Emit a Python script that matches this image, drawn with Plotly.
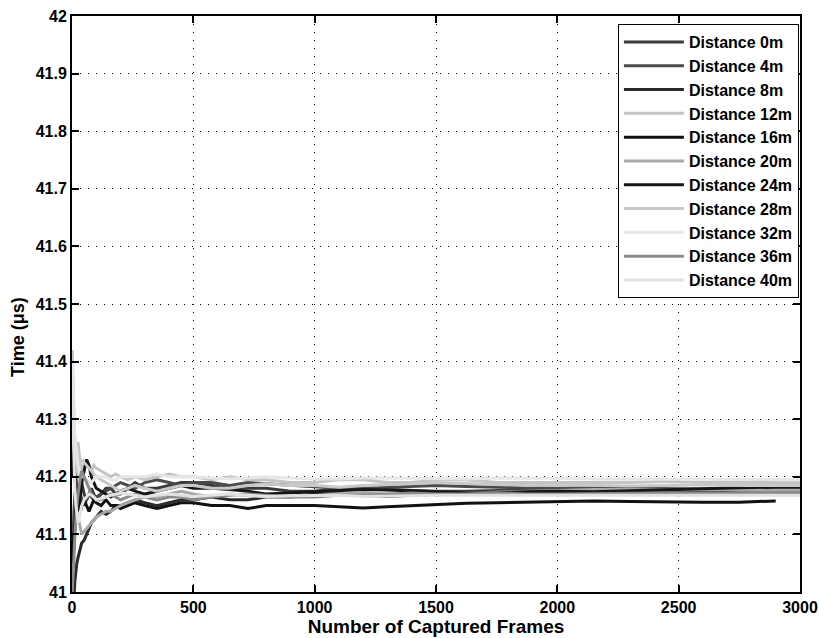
import plotly.graph_objects as go

# Frame counts at which the running mean time was sampled
frames = [1, 4, 8, 12, 16, 20, 25, 30, 35, 40,
          50, 60, 70, 80, 90, 100, 120, 140, 160, 180,
          200, 230, 260, 300, 350, 400, 450, 500, 575, 650,
          725, 800, 900, 1000, 1100, 1200, 1300, 1400, 1500, 1625,
          1750, 1875, 2000, 2150, 2300, 2450, 2600, 2750, 2900, 3000]

labels = ["Distance 0m", "Distance 4m", "Distance 8m", "Distance 12m",
          "Distance 16m", "Distance 20m", "Distance 24m", "Distance 28m",
          "Distance 32m", "Distance 36m", "Distance 40m"]

d0 = [41.30, 41.26, 41.22, 41.19, 41.21, 41.23, 41.24, 41.22, 41.20, 41.19,
      41.17, 41.16, 41.17, 41.18, 41.17, 41.16, 41.17, 41.18, 41.18, 41.17,
      41.17, 41.18, 41.19, 41.18, 41.18, 41.185, 41.19, 41.19, 41.185, 41.18,
      41.18, 41.18, 41.175, 41.175, 41.18, 41.18, 41.178, 41.176, 41.175, 41.175,
      41.176, 41.178, 41.178, 41.177, 41.176, 41.176, 41.177, 41.178, 41.178, 41.178]
d4 = [41.05, 41.10, 41.14, 41.17, 41.18, 41.16, 41.15, 41.16, 41.17, 41.16,
      41.15, 41.16, 41.17, 41.165, 41.16, 41.165, 41.17, 41.175, 41.18, 41.185,
      41.19, 41.185, 41.18, 41.19, 41.195, 41.19, 41.185, 41.19, 41.19, 41.185,
      41.19, 41.188, 41.185, 41.182, 41.18, 41.18, 41.182, 41.184, 41.185, 41.183,
      41.182, 41.18, 41.18, 41.181, 41.18, 41.18, 41.179, 41.18, 41.18, 41.18]
d8 = [40.90, 40.95, 40.99, 41.02, 41.04, 41.05, 41.06, 41.07, 41.08, 41.085,
      41.09, 41.10, 41.11, 41.12, 41.125, 41.13, 41.14, 41.135, 41.14, 41.15,
      41.15, 41.155, 41.16, 41.155, 41.15, 41.155, 41.16, 41.16, 41.165, 41.16,
      41.16, 41.165, 41.165, 41.17, 41.17, 41.168, 41.166, 41.168, 41.17, 41.172,
      41.17, 41.17, 41.172, 41.172, 41.17, 41.172, 41.174, 41.172, 41.172, 41.172]
d12 = [41.42, 41.36, 41.30, 41.25, 41.22, 41.24, 41.26, 41.24, 41.22, 41.21,
       41.22, 41.23, 41.22, 41.21, 41.22, 41.215, 41.21, 41.205, 41.20, 41.205,
       41.20, 41.195, 41.20, 41.195, 41.20, 41.205, 41.20, 41.20, 41.195, 41.20,
       41.195, 41.195, 41.19, 41.19, 41.195, 41.195, 41.19, 41.19, 41.195, 41.195,
       41.19, 41.19, 41.19, 41.19, 41.19, 41.192, 41.19, 41.19, 41.19, 41.19]
d16 = [41.10, 41.05, 41.08, 41.12, 41.15, 41.17, 41.18, 41.16, 41.14, 41.15,
       41.16, 41.15, 41.14, 41.15, 41.16, 41.155, 41.15, 41.16, 41.15, 41.15,
       41.145, 41.15, 41.155, 41.15, 41.145, 41.15, 41.155, 41.155, 41.15, 41.15,
       41.145, 41.15, 41.15, 41.15, 41.148, 41.146, 41.148, 41.15, 41.152, 41.154,
       41.155, 41.156, 41.158, 41.158, 41.157, 41.156, 41.156, 41.156, 41.158, None]
d20 = [41.35, 41.30, 41.26, 41.22, 41.18, 41.15, 41.13, 41.12, 41.11, 41.10,
       41.105, 41.11, 41.115, 41.12, 41.125, 41.13, 41.135, 41.14, 41.14, 41.145,
       41.15, 41.155, 41.16, 41.165, 41.165, 41.17, 41.175, 41.17, 41.165, 41.17,
       41.168, 41.165, 41.165, 41.168, 41.17, 41.172, 41.17, 41.168, 41.17, 41.172,
       41.174, 41.175, 41.176, 41.178, 41.178, 41.177, 41.178, 41.178, 41.178, 41.178]
d24 = [41.20, 41.24, 41.25, 41.22, 41.19, 41.16, 41.14, 41.15, 41.17, 41.19,
       41.21, 41.23, 41.22, 41.20, 41.19, 41.18, 41.175, 41.17, 41.165, 41.17,
       41.175, 41.18, 41.175, 41.17, 41.175, 41.18, 41.185, 41.18, 41.18, 41.178,
       41.175, 41.17, 41.172, 41.175, 41.176, 41.178, 41.177, 41.175, 41.174, 41.172,
       41.172, 41.174, 41.175, 41.174, 41.176, 41.178, 41.18, 41.181, 41.182, 41.182]
d28 = [41.38, 41.33, 41.28, 41.25, 41.23, 41.21, 41.20, 41.21, 41.22, 41.23,
       41.225, 41.22, 41.215, 41.21, 41.205, 41.20, 41.195, 41.19, 41.185, 41.18,
       41.175, 41.18, 41.185, 41.18, 41.175, 41.18, 41.185, 41.185, 41.18, 41.18,
       41.185, 41.188, 41.185, 41.185, 41.182, 41.185, 41.186, 41.188, 41.19, 41.188,
       41.186, 41.185, 41.186, 41.185, 41.184, 41.185, 41.186, 41.185, 41.185, 41.185]
d32 = [41.40, 41.35, 41.30, 41.27, 41.25, 41.23, 41.22, 41.21, 41.20, 41.20,
       41.20, 41.195, 41.19, 41.19, 41.195, 41.20, 41.20, 41.20, 41.195, 41.195,
       41.20, 41.20, 41.20, 41.20, 41.205, 41.20, 41.20, 41.20, 41.198, 41.196,
       41.198, 41.20, 41.198, 41.196, 41.196, 41.198, 41.198, 41.197, 41.196, 41.196,
       41.198, 41.198, 41.197, 41.196, 41.196, 41.196, 41.195, 41.195, 41.195, 41.195]
d36 = [41.00, 41.02, 41.06, 41.10, 41.13, 41.15, 41.17, 41.19, 41.20, 41.21,
       41.20, 41.19, 41.18, 41.17, 41.165, 41.16, 41.16, 41.165, 41.17, 41.165,
       41.16, 41.165, 41.17, 41.165, 41.16, 41.165, 41.165, 41.16, 41.165, 41.168,
       41.17, 41.168, 41.165, 41.165, 41.168, 41.168, 41.17, 41.172, 41.17, 41.17,
       41.172, 41.17, 41.17, 41.171, 41.172, 41.172, 41.172, 41.172, 41.172, 41.172]
d40 = [41.33, 41.28, 41.22, 41.18, 41.15, 41.13, 41.12, 41.13, 41.14, 41.15,
       41.16, 41.165, 41.17, 41.168, 41.165, 41.16, 41.162, 41.165, 41.168, 41.17,
       41.172, 41.17, 41.168, 41.165, 41.168, 41.17, 41.168, 41.166, 41.168, 41.17,
       41.168, 41.166, 41.167, 41.168, 41.168, 41.166, 41.166, 41.167, 41.168, 41.168,
       41.167, 41.167, 41.168, 41.168, 41.168, 41.168, 41.168, 41.168, 41.168, 41.168]

series = [d0, d4, d8, d12, d16, d20, d24, d28, d32, d36, d40]
shades = ["#3a3a3a", "#4a4a4a", "#2a2a2a", "#c4c4c4", "#111111", "#a8a8a8",
          "#161616", "#c8c8c8", "#e6e6e6", "#8a8a8a", "#e2e2e2"]

font_family = "Liberation Sans, Arial, sans-serif"

fig = go.Figure()
for name, ys, col in zip(labels, series, shades):
    fig.add_trace(go.Scatter(x=frames, y=ys, mode="lines", name=name,
                             line=dict(color=col, width=3)))

axis_common = dict(
    showline=True, linecolor="black", linewidth=2, mirror="ticks",
    ticks="inside", ticklen=7, tickwidth=1.5, tickcolor="black",
    showgrid=True, gridcolor="black", gridwidth=1, griddash="1px,7px",
    zeroline=False, automargin=False,
    tickfont=dict(family=font_family, size=16, color="black", weight="bold"),
)

fig.update_layout(
    width=819, height=638,
    margin=dict(l=72, r=19, t=16, b=46),
    paper_bgcolor="white", plot_bgcolor="white",
    showlegend=True,
    legend=dict(
        x=0.9985, y=0.986, xanchor="right", yanchor="top",
        bgcolor="white", bordercolor="black", borderwidth=1,
        font=dict(family=font_family, size=16, color="black", weight="bold"),
        tracegroupgap=0, itemwidth=60,
    ),
    xaxis=dict(range=[0, 3000], tickvals=[0, 500, 1000, 1500, 2000, 2500, 3000],
               title=dict(text="Number of Captured Frames", standoff=0,
                          font=dict(family=font_family, size=19, color="black", weight="bold")),
               **axis_common),
    yaxis=dict(range=[41, 42], dtick=0.1, tickformat="~g", **axis_common),
    annotations=[dict(
        text="Time (μs)", textangle=-90, showarrow=False,
        xref="paper", yref="paper", x=-0.074, y=0.443,
        xanchor="center", yanchor="middle",
        font=dict(family=font_family, size=18, color="black", weight="bold"),
    )],
)

fig.write_html("out.html")
